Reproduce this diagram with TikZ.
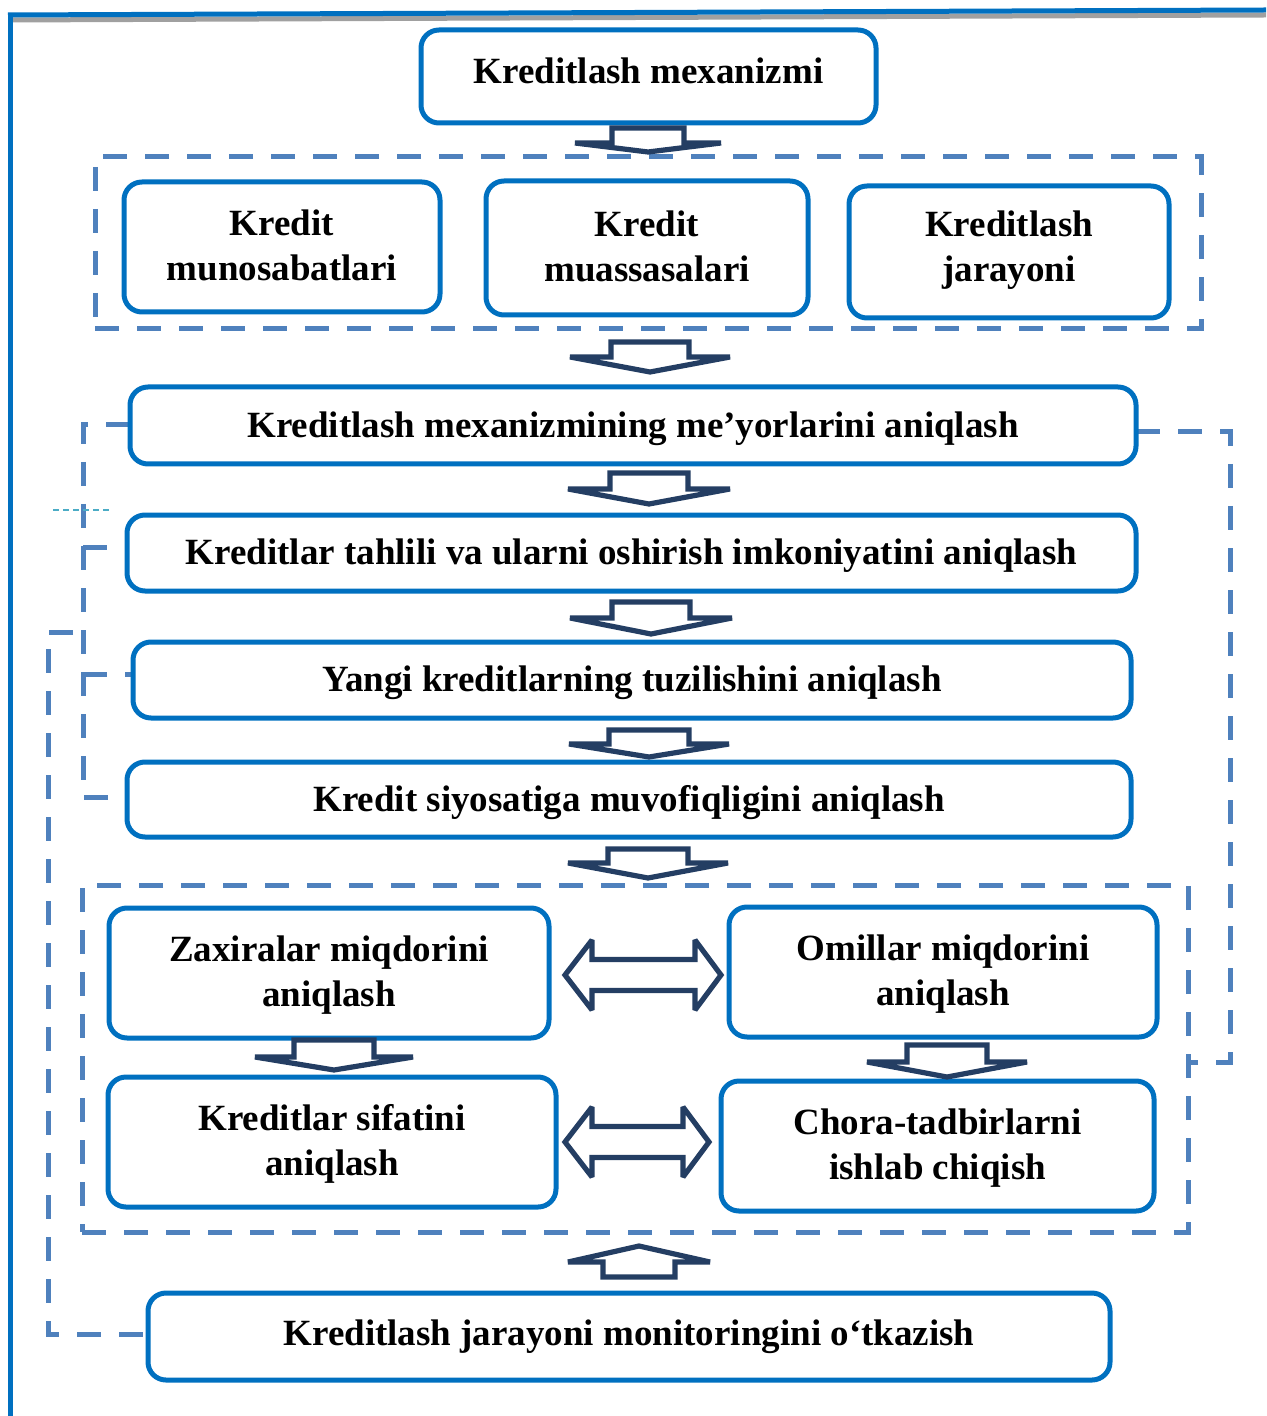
\documentclass[tikz,border=0pt]{standalone}
\usepackage{fontspec}
\setmainfont{Liberation Serif}
\usetikzlibrary{fit}
\definecolor{boxblue}{RGB}{0,112,192}
\definecolor{dashblue}{RGB}{79,129,189}
\definecolor{navy}{RGB}{36,62,99}
\definecolor{shadowgrey}{RGB}{160,160,160}
\definecolor{thincyan}{RGB}{75,172,198}
\newcommand{\downarr}[6]{% cx ytop sw ysh hw ytip
  \draw[blockarr] ({#1-#3},#2) -- ({#1+#3},#2) -- ({#1+#3},#4) -- ({#1+#5},#4) -- (#1,#6) -- ({#1-#5},#4) -- ({#1-#3},#4) -- cycle;}
\newcommand{\dblarr}[3]{% xl xr yc
  \draw[blockarr] (#1,#3) -- ({#1+27},{#3-35}) -- ({#1+27},{#3-15.5}) -- ({#2-26},{#3-15.5}) -- ({#2-26},{#3-35}) -- (#2,#3)
   -- ({#2-26},{#3+35}) -- ({#2-26},{#3+15.5}) -- ({#1+27},{#3+15.5}) -- ({#1+27},{#3+35}) -- cycle;}
\newcommand{\pbox}[7][-1.5pt]{\node[boxst, fit={(#3,#4) (#5,#6)}] (#2) {};
  \node[boxtxt] (#2t) at ([yshift=#1]#2.center) {#7};}
\begin{document}
\begin{tikzpicture}[x=0.5pt, y=-0.5pt,
  boxst/.style={draw=boxblue, line width=2.5pt, rounded corners=9pt, inner sep=0pt, fill=white},
  boxtxt/.style={inner sep=0pt, align=center, font=\fontsize{18.5}{22.5}\selectfont\bfseries},
  grp/.style={draw=dashblue, line width=2.5pt, dash pattern=on 12pt off 9pt, inner sep=0pt},
  dsh/.style={draw=dashblue, line width=2.5pt, dash pattern=on 12pt off 9pt},
  blockarr/.style={draw=navy, line width=2.6pt, fill=white, line join=miter, miter limit=2}]
\useasboundingbox (0,0) rectangle (1266,1416);
% outer frame
\draw[shadowgrey, line width=2.5pt] (10,20) -- (1266,15);
\draw[boxblue, line width=2.5pt] (8,15) -- (1266,10);
\draw[boxblue, line width=2.5pt] (10,17) -- (10,1416);
% groups
\node[grp, fit={(95,157) (1201,329)}] (g1) {};
\node[grp, fit={(82,885) (1188,1232)}] (g2) {};
% dashed connectors
\coordinate (l1a) at (83,425);
\coordinate (l1b) at (83,797);
\draw[dsh] (130,425) -- (l1a) -- (l1b) -- (127,797);
\draw[dsh] (83,547) -- (127,547);
\draw[dsh] (83,674) -- (133,674);
\coordinate (l2top) at (73,632);
\coordinate (l2a) at (48,632);
\coordinate (l2b) at (48,1334);
\draw[dsh] (l2top) -- (l2a) -- (l2b) -- (148,1334);
\coordinate (r1) at (1230,432);
\coordinate (r2) at (1230,1062);
\draw[dsh] (1136,432) -- (r1) -- (r2) -- (1188,1062);
\draw[thincyan, line width=0.6pt, dash pattern=on 3pt off 2pt] (53,510) -- (110,510);
% boxes
\pbox[3pt]{b1}{421}{30}{876}{123}{Kreditlash mexanizmi}
\pbox[1pt]{k1}{124}{182}{440}{312}{Kredit\\munosabatlari}
\pbox[1pt]{k2}{486}{181}{808}{315}{Kredit\\muassasalari}
\pbox[1pt]{k3}{849}{186}{1169}{318}{Kreditlash\\jarayoni}
\pbox{b3}{130}{387}{1136}{464}{Kreditlash mexanizmining me’yorlarini aniqlash}
\pbox{b4}{127}{515}{1136}{591}{Kreditlar tahlili va ularni oshirish imkoniyatini aniqlash}
\pbox{b5}{133}{642}{1131}{718}{Yangi kreditlarning tuzilishini aniqlash}
\pbox{b6}{127}{762}{1131}{837}{Kredit siyosatiga muvofiqligini aniqlash}
\pbox[-1pt]{z1}{109}{908}{549}{1038}{Zaxiralar miqdorini\\aniqlash}
\pbox[-1pt]{z2}{729}{907}{1157}{1037}{Omillar miqdorini\\aniqlash}
\pbox[-1pt]{z3}{108}{1077}{556}{1207}{Kreditlar sifatini\\aniqlash}
\pbox[-1pt]{z4}{721}{1081}{1154}{1211}{Chora-tadbirlarni\\ishlab chiqish}
\pbox[0pt]{b7}{148}{1293}{1110}{1380}{Kreditlash jarayoni monitoringini o‘tkazish}
% block arrows
\downarr{648}{128}{36}{143}{73}{152}
\downarr{650}{342}{39}{357}{80}{372}
\downarr{649}{473}{39}{489}{81}{504}
\downarr{651}{602}{39}{618}{81}{634}
\downarr{649}{730}{40}{744}{80}{757}
\downarr{648}{849}{40}{863}{80}{878}
\downarr{334}{1040}{40}{1057}{79}{1070}
\downarr{947}{1045}{40}{1062}{80}{1077}
\downarr{639}{1277}{36}{1262}{71}{1246}
\dblarr{565}{721}{975}
\dblarr{565}{709}{1142}
\end{tikzpicture}
\end{document}
